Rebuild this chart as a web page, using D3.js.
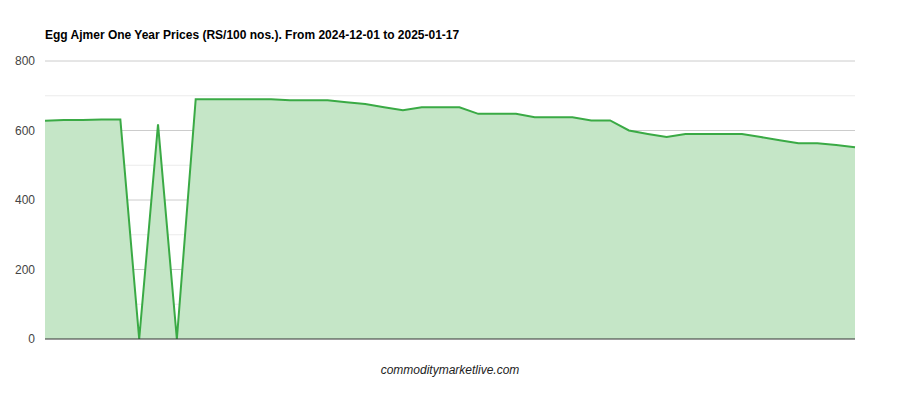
<!DOCTYPE html>
<html><head><meta charset="utf-8">
<script src="https://cdn.jsdelivr.net/npm/d3@7"></script>
<style>body{margin:0;background:#fff;font-family:Arial,"Liberation Sans",sans-serif}</style>
</head><body><div id="content"></div>
<script>
const title = "Egg Ajmer One Year Prices (RS/100 nos.). From 2024-12-01 to 2025-01-17";
const prices = [628,630,630,632,632,0,618,0,690,690,690,690,690,687,687,687,681,676,667,658,667,667,667,648,648,648,638,638,638,629,629,600,590,581,590,590,590,590,581,572,563,563,558,552];
const yTicks = [0,200,400,600,800];
const minorTicks = [100,300,500,700];

const W = 900, H = 400, m = {l:45, r:45, t:61, b:61};
const svg = d3.select("#content").append("svg").attr("width",W).attr("height",H);

const x = d3.scaleLinear().domain([0,prices.length-1]).range([m.l, W-m.r]);
const y = d3.scaleLinear().domain([0,800]).range([H-m.b, m.t]);

svg.append("text").attr("x",45).attr("y",39).text(title)
   .style("font-size","12px").style("font-weight","bold").style("fill","#000");

svg.selectAll(".minor").data(minorTicks).enter().append("line")
   .attr("x1",m.l).attr("x2",W-m.r).attr("y1",d=>y(d)).attr("y2",d=>y(d))
   .style("stroke","#ebebeb");
svg.selectAll(".major").data(yTicks.slice(1)).enter().append("line")
   .attr("x1",m.l).attr("x2",W-m.r).attr("y1",d=>y(d)).attr("y2",d=>y(d))
   .style("stroke","#cccccc");

svg.selectAll(".lbl").data(yTicks).enter().append("text")
   .attr("x",m.l-10).attr("y",d=>y(d)+4).attr("text-anchor","end")
   .text(d=>d).style("font-size","12px").style("fill","#444");

const area = d3.area().x((d,i)=>x(i)).y0(y(0)).y1(d=>y(d));
const line = d3.line().x((d,i)=>x(i)).y(d=>y(d));
svg.append("path").datum(prices).attr("d",area).style("fill","#c5e6c7");
svg.append("path").datum(prices).attr("d",line).style("fill","none")
   .style("stroke","#3aaa45").style("stroke-width",2);

svg.append("line").attr("x1",m.l).attr("x2",W-m.r).attr("y1",y(0)).attr("y2",y(0))
   .style("stroke","#333");

svg.append("text").attr("x",450).attr("y",374).attr("text-anchor","middle")
   .text("commoditymarketlive.com").style("font-size","12px").style("font-style","italic").style("fill","#222");
</script></body></html>
